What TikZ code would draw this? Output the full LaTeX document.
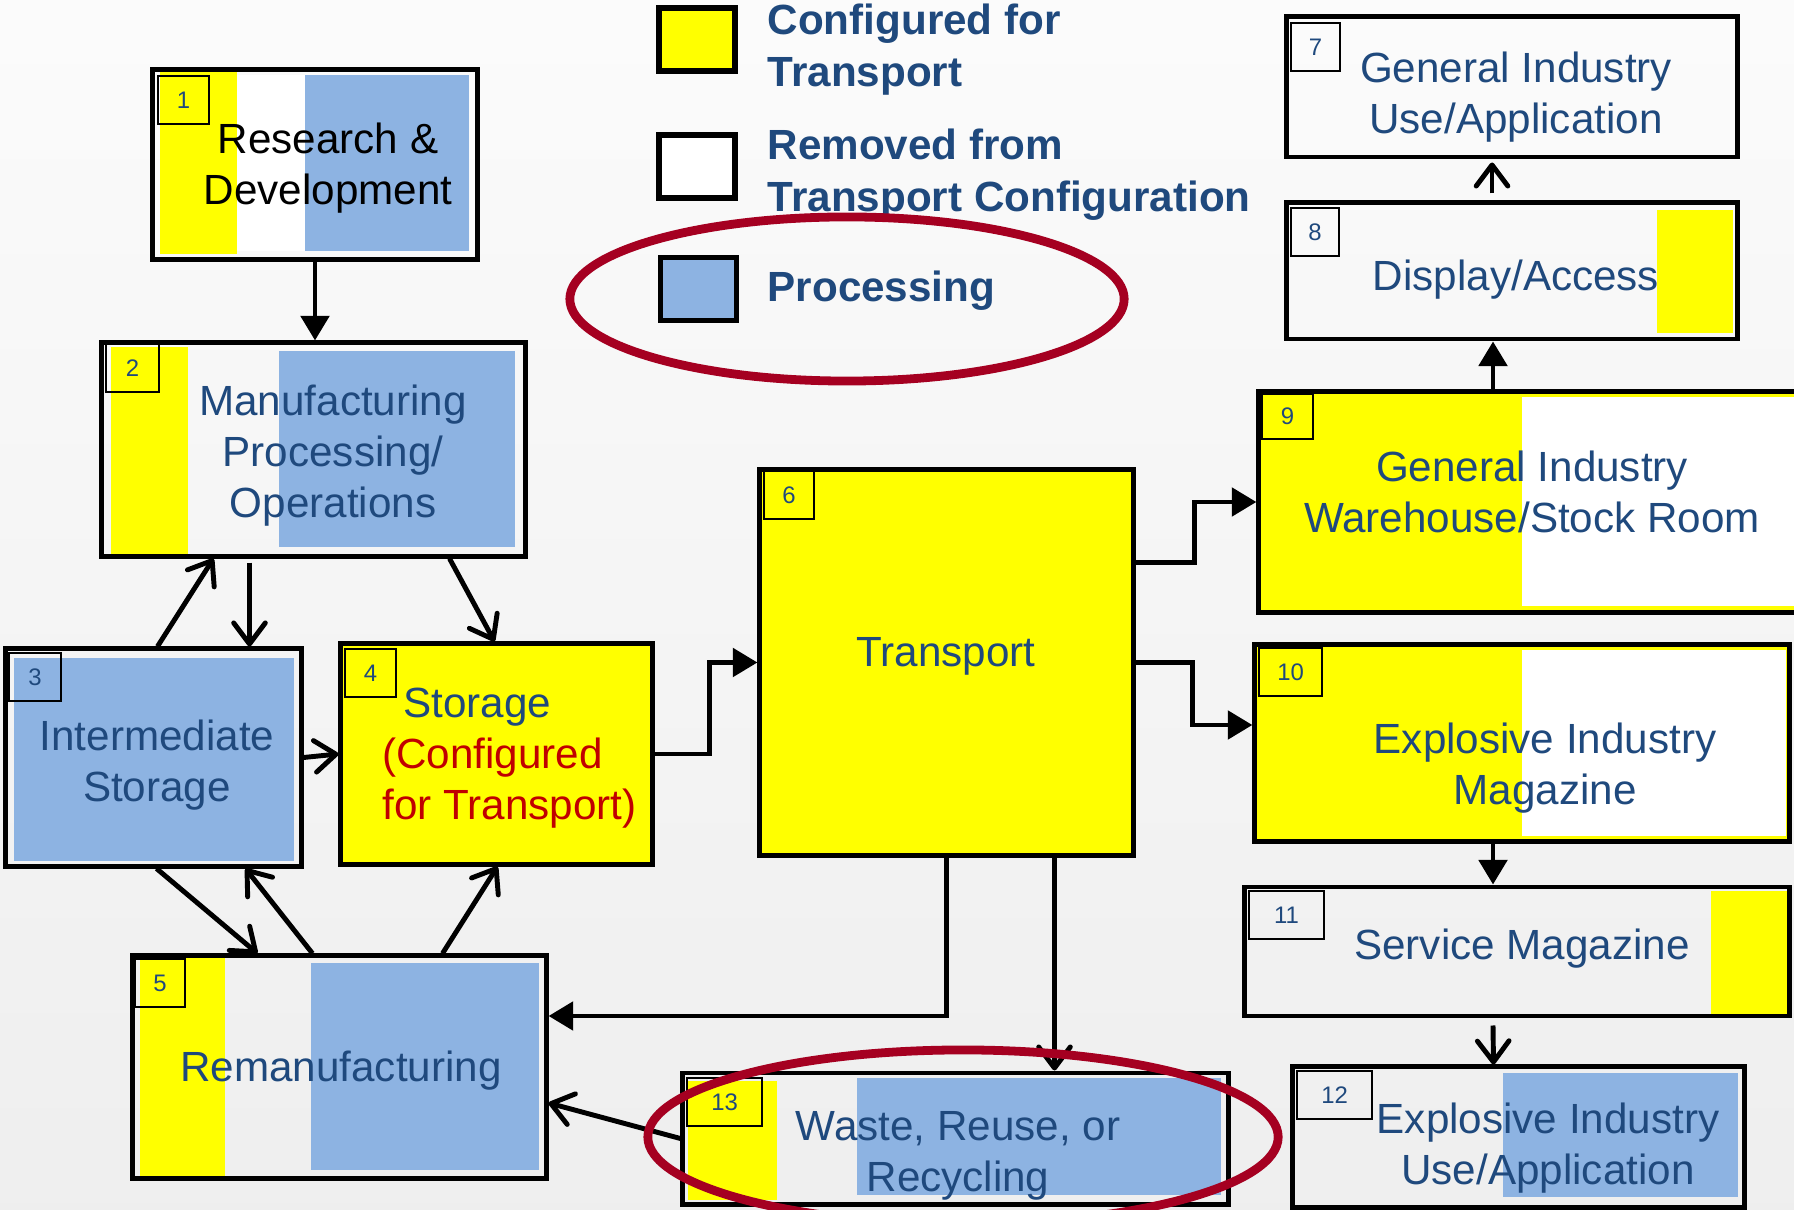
\documentclass[tikz,border=0pt]{standalone}
\usepackage{fontspec}
\setmainfont{Liberation Sans}
\usepackage{xcolor}
\usetikzlibrary{calc}
\usetikzlibrary{arrows.meta}

\definecolor{txtblue}{RGB}{31,73,125}
\definecolor{cfgred}{RGB}{192,0,0}
\definecolor{ringred}{RGB}{165,0,33}
\definecolor{procblue}{RGB}{141,179,226}
\definecolor{cfgyellow}{RGB}{255,255,0}

\begin{document}
\begin{tikzpicture}[x=0.01cm,y=-0.01cm,
      stage style/.style={draw=black,line width=1.4pt,inner sep=0pt},
      num style/.style={draw=black,line width=0.6pt,anchor=north west,
        minimum height=0.48cm,inner sep=0pt,text=txtblue,
        font=\fontsize{6.8}{7}\selectfont},
      label style/.style={align=center,text=txtblue,
        font=\fontsize{12}{14.5}\selectfont},
      key box/.style={draw=black,line width=1.5pt,minimum width=0.76cm,
        minimum height=0.63cm,inner sep=0pt},
      key style/.style={anchor=west,align=left,text=txtblue,inner sep=0pt,
        font=\fontsize{12}{14.8}\selectfont\bfseries},
      open tip/.style={line width=1.4pt,
        -{Straight Barb[length=6pt,width=9pt,round]}},
      fill tip/.style={line width=1.4pt,-{Triangle[length=7pt,width=8pt]}},
      ring/.style={draw=ringred,line width=2.5pt}
      ]
      \useasboundingbox (0,0) rectangle (1794,1210);
      \clip (0,0) rectangle (1794,1210);
      \shade[top color=gray!3,bottom color=gray!13] (0,0) rectangle (1794,1210);

      % colour strips under the stages
      \fill[white] (237,75) rectangle (305,251);
      \fill[cfgyellow] (160,67) rectangle (237,254);
      \fill[procblue] (305,75) rectangle (469,251);
      \fill[cfgyellow] (111,347) rectangle (188,554);
      \fill[procblue] (279,351) rectangle (515,547);
      \fill[procblue] (14,658) rectangle (294,861);
      \fill[cfgyellow] (140,958) rectangle (225,1177);
      \fill[procblue] (311,963) rectangle (539,1170);
      \fill[cfgyellow] (1657,210) rectangle (1733,333);
      \fill[cfgyellow] (1259,392) rectangle (1850,612);
      \fill[white] (1522,397) rectangle (1800,606);
      \fill[cfgyellow] (1255,645) rectangle (1789,841);
      \fill[white] (1522,650) rectangle (1786,836);
      \fill[cfgyellow] (1711,891) rectangle (1788,1014);
      \fill[procblue] (1503,1073) rectangle (1738,1197);
      \fill[cfgyellow] (688,1081) rectangle (777,1200);
      \fill[procblue] (857,1078) rectangle (1221,1195);

      % stages
      \node[stage style,minimum width=3.24cm,minimum height=1.89cm] (rd) at (315,164.5) {};
      \node[stage style,minimum width=4.23cm,minimum height=2.13cm] (mfg) at (313.5,449.5) {};
      \node[stage style,minimum width=2.95cm,minimum height=2.17cm] (inter) at (153.5,757.5) {};
      \node[stage style,fill=cfgyellow,minimum width=3.11cm,minimum height=2.2cm] (store) at (496.5,754) {};
      \node[stage style,minimum width=4.13cm,minimum height=2.22cm] (reman) at (339.5,1067) {};
      \node[stage style,fill=cfgyellow,minimum width=3.73cm,minimum height=3.85cm] (trans) at (946.5,662.5) {};
      \node[stage style,minimum width=4.5cm,minimum height=1.4cm] (giuse) at (1512,87) {};
      \node[stage style,minimum width=4.5cm,minimum height=1.36cm] (disp) at (1512,271) {};
      \node[stage style,minimum width=5.91cm,minimum height=2.2cm] (whse) at (1554.5,502) {};
      \node[stage style,minimum width=5.34cm,minimum height=1.96cm] (mag) at (1522,743) {};
      \node[stage style,minimum width=5.44cm,minimum height=1.29cm] (svc) at (1517,951.5) {};
      \node[stage style,minimum width=4.51cm,minimum height=1.4cm] (euse) at (1518.5,1137) {};
      \node[stage style,minimum width=5.45cm,minimum height=1.31cm] (waste) at (955.5,1138.5) {};

      % numbers
      \node[num style,minimum width=0.51cm] (rd-n) at (157,75) {1};
      \node[num style,minimum width=0.53cm] (mfg-n) at (105,343) {2};
      \node[num style,minimum width=0.52cm] (inter-n) at (8,652) {3};
      \node[num style,minimum width=0.51cm] (store-n) at (344,648) {4};
      \node[num style,minimum width=0.5cm] (reman-n) at (134,958) {5};
      \node[num style,minimum width=0.5cm] (trans-n) at (763,470) {6};
      \node[num style,minimum width=0.49cm] (giuse-n) at (1290,22) {7};
      \node[num style,minimum width=0.48cm] (disp-n) at (1290,207) {8};
      \node[num style,minimum width=0.51cm,minimum height=0.45cm] (whse-n) at (1261,393) {9};
      \node[num style,minimum width=0.63cm] (mag-n) at (1258,647) {10};
      \node[num style,minimum width=0.75cm] (svc-n) at (1248,890) {11};
      \node[num style,minimum width=0.75cm] (euse-n) at (1296,1070) {12};
      \node[num style,minimum width=0.75cm] (waste-n) at (686,1077) {13};

      % stage texts
      \node[label style,text=black] (rd-t) at (328,168) {Research \&\\Development};
      \node[label style] (mfg-t) at (333,456) {Manufacturing\\Processing/\\Operations};
      \node[label style] (inter-t) at (157,765) {Intermediate\\Storage};
      \node[label style,align=left,anchor=west] (store-t) at (370,758)
        {\hspace*{6pt}Storage\\\textcolor{cfgred}{(Configured}\\\textcolor{cfgred}{for Transport)}};
      \node[label style] (reman-t) at (341,1071) {Remanufacturing};
      \node[label style] (trans-t) at (946,656) {Transport};
      \node[label style] (giuse-t) at (1516,97) {General Industry\\Use/Application};
      \node[label style] (disp-t) at (1516,280) {Display/Access};
      \node[label style] (whse-t) at (1532,492) {General Industry\\Warehouse/Stock Room};
      \node[label style] (mag-t) at (1545,768) {Explosive Industry\\Magazine};
      \node[label style] (svc-t) at (1522,949) {Service Magazine};
      \node[label style] (euse-t) at (1548,1148) {Explosive Industry\\Use/Application};
      \node[label style] (waste-t) at (958,1156) {Waste, Reuse, or\\Recycling};

      % key
      \node[key box,fill=cfgyellow] (key-cfg) at (697,39.5) {};
      \node[key box,fill=white] (key-rem) at (697,166.5) {};
      \node[key box,fill=procblue] (key-proc) at (698.5,289) {};
      \node[key style] (key-cfg-t) at (767,50) {Configured for\\Transport};
      \node[key style] (key-rem-t) at (767,175) {Removed from\\Transport Configuration};
      \node[key style] (key-proc-t) at (767,291) {Processing};

      % flows
      \draw[fill tip] (rd.south) -- (rd.south |- mfg.north);
      \draw[open tip] ($(inter.north)+(4,0)$) -- ($(mfg.south)+(-100,0)$);
      \draw[open tip] ($(mfg.south)+(-64,4)$) -- ($(inter.north)+(96,0)$);
      \draw[open tip] ($(mfg.south)+(136,0)$) -- ($(store.north)+(-2,0)$);
      \draw[open tip] (inter.east) -- (store.west);
      \draw[open tip] ($(inter.south)+(3,0)$) -- ($(reman.north)+(-82,0)$);
      \draw[open tip] ($(reman.north)+(-27,0)$) -- ($(inter.south)+(92,0)$);
      \draw[open tip] ($(reman.north)+(103,0)$) -- ($(store.south)+(1,0)$);
      \draw[fill tip] (store.east) -- ++(55,0) |- (trans.west);
      \draw[fill tip] ($(trans.east)+(0,-100)$) -- ++(59,0) |- (whse.west);
      \draw[fill tip] (trans.east) -- ++(57,0) |- ($(mag.west)+(0,-18)$);
      \draw[fill tip] (trans.south) |- ($(reman.east)+(0,-51)$);
      \draw[open tip] ($(trans.south)+(108,0)$) -- ($(waste.north)+(99,0)$);
      \draw[open tip] (waste.west) -- ($(reman.east)+(0,36)$);
      \draw[open tip] ($(disp.north)+(-20,-7)$) -- ($(giuse.south)+(-20,3)$);
      \draw[fill tip] ($(whse.north -| disp.south)+(-19,0)$) -- ($(disp.south)+(-19,0)$);
      \draw[fill tip] ($(mag.south)+(-29,0)$) -- ($(svc.north)+(-24,0)$);
      \draw[open tip] ($(svc.south)+(-24,7)$) -- ($(euse.north)+(-25,0)$);

      % highlight rings
      \draw[ring] (847,299) ellipse [x radius=2.77cm,y radius=0.82cm];
      \draw[ring] (963,1137) ellipse [x radius=3.15cm,y radius=0.87cm];
    \end{tikzpicture}
\end{document}
